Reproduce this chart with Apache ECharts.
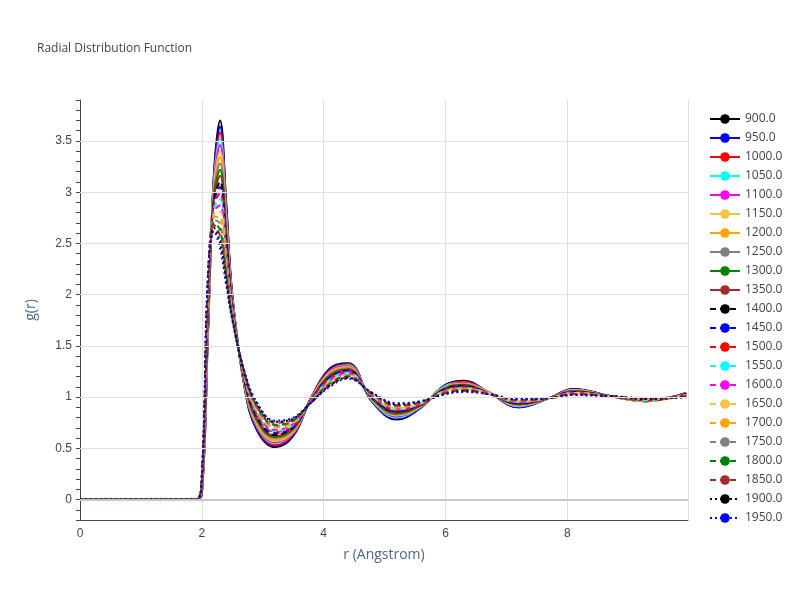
<!DOCTYPE html>
<html><head><meta charset="utf-8">
<script src="https://cdn.jsdelivr.net/npm/echarts@6/dist/echarts.min.js"></script>
<style>html,body{margin:0;padding:0;background:#fff}#c{width:800px;height:600px}</style>
</head><body><div id="c"></div>
<script>
var rGrid=[0,1.9,2.0,2.1,2.2,2.3,2.4,2.5,2.7,2.9,3.2,3.5,3.8,4.1,4.4,4.8,5.2,5.6,6.0,6.3,6.7,7.2,7.7,8.1,8.7,9.3,9.95];
var temps=["900.0","950.0","1000.0","1050.0","1100.0","1150.0","1200.0","1250.0","1300.0","1350.0","1400.0","1450.0","1500.0","1550.0","1600.0","1650.0","1700.0","1750.0","1800.0","1850.0","1900.0","1950.0"];
var yGridLines=[0.5,1,1.5,2,2.5,3,3.5];
var g=[
[0,0,.05,1.60,3.20,3.70,2.90,2.00,1.10,.68,.51,.62,1.00,1.28,1.33,.95,.78,.90,1.12,1.16,1.05,.90,.99,1.08,1.01,.96,1.04],
[0,0,.06,1.63,3.17,3.64,2.86,1.99,1.11,.69,.52,.63,1.00,1.27,1.32,.95,.79,.90,1.12,1.15,1.05,.90,.99,1.08,1.01,.96,1.04],
[0,0,.07,1.66,3.14,3.58,2.82,1.98,1.11,.71,.53,.64,1.00,1.26,1.32,.96,.80,.91,1.11,1.15,1.05,.91,.99,1.07,1.01,.96,1.04],
[0,0,.08,1.69,3.12,3.52,2.79,1.96,1.12,.72,.55,.65,.99,1.25,1.31,.96,.80,.91,1.11,1.14,1.05,.91,.99,1.07,1.01,.96,1.04],
[0,0,.09,1.71,3.09,3.46,2.75,1.95,1.13,.73,.56,.65,.99,1.25,1.30,.97,.81,.91,1.10,1.14,1.05,.92,.99,1.07,1.01,.96,1.04],
[0,0,.10,1.74,3.06,3.40,2.71,1.94,1.14,.74,.57,.66,.99,1.24,1.29,.97,.82,.91,1.10,1.13,1.05,.92,.99,1.07,1.01,.96,1.03],
[0,0,.11,1.77,3.03,3.34,2.67,1.93,1.14,.76,.58,.67,.99,1.23,1.29,.98,.83,.92,1.09,1.13,1.04,.92,.99,1.06,1.01,.96,1.03],
[0,0,.12,1.80,3.01,3.28,2.63,1.92,1.15,.77,.60,.68,.98,1.22,1.28,.98,.83,.92,1.09,1.12,1.04,.93,.99,1.06,1.01,.97,1.03],
[0,0,.13,1.83,2.98,3.22,2.60,1.90,1.16,.78,.61,.69,.98,1.21,1.27,.98,.84,.92,1.09,1.12,1.04,.93,.99,1.06,1.01,.97,1.03],
[0,0,.14,1.86,2.95,3.16,2.56,1.89,1.16,.80,.62,.70,.98,1.20,1.27,.99,.85,.93,1.08,1.11,1.04,.93,.99,1.05,1.01,.97,1.03],
[0,0,.15,1.89,2.92,3.10,2.52,1.88,1.17,.81,.63,.71,.98,1.19,1.26,.99,.86,.93,1.08,1.11,1.04,.94,.99,1.05,1.01,.97,1.03],
[0,0,.15,1.91,2.90,3.05,2.48,1.87,1.18,.82,.65,.71,.97,1.19,1.25,1.00,.86,.93,1.07,1.10,1.04,.94,.99,1.05,1.01,.97,1.02],
[0,0,.16,1.94,2.87,2.99,2.44,1.86,1.19,.83,.66,.72,.97,1.18,1.24,1.00,.87,.93,1.07,1.10,1.04,.95,.99,1.05,1.01,.97,1.02],
[0,0,.17,1.97,2.84,2.93,2.40,1.85,1.19,.85,.67,.73,.97,1.17,1.24,1.01,.88,.94,1.06,1.09,1.04,.95,.99,1.04,1.01,.97,1.02],
[0,0,.18,2.00,2.81,2.87,2.37,1.83,1.20,.86,.68,.74,.97,1.16,1.23,1.01,.89,.94,1.06,1.09,1.04,.95,.99,1.04,1.01,.98,1.02],
[0,0,.19,2.03,2.79,2.81,2.33,1.82,1.21,.87,.70,.75,.96,1.15,1.22,1.01,.89,.94,1.06,1.08,1.04,.96,.99,1.04,1.01,.98,1.02],
[0,0,.20,2.06,2.76,2.75,2.29,1.81,1.21,.89,.71,.76,.96,1.14,1.21,1.02,.90,.95,1.05,1.08,1.03,.96,.99,1.03,1.01,.98,1.01],
[0,0,.21,2.09,2.73,2.69,2.25,1.80,1.22,.90,.72,.77,.96,1.13,1.21,1.02,.91,.95,1.05,1.07,1.03,.96,.99,1.03,1.01,.98,1.01],
[0,0,.22,2.11,2.70,2.63,2.21,1.79,1.23,.91,.73,.77,.96,1.13,1.20,1.03,.92,.95,1.04,1.07,1.03,.97,.99,1.03,1.01,.98,1.01],
[0,0,.23,2.14,2.68,2.57,2.18,1.77,1.24,.92,.75,.78,.95,1.12,1.19,1.03,.92,.95,1.04,1.06,1.03,.97,.99,1.03,1.01,.98,1.01],
[0,0,.24,2.17,2.65,2.51,2.14,1.76,1.24,.94,.76,.79,.95,1.11,1.19,1.04,.93,.96,1.03,1.06,1.03,.98,.99,1.02,1.01,.98,1.00],
[0,0,.25,2.20,2.62,2.45,2.10,1.75,1.25,.95,.77,.80,.95,1.10,1.18,1.04,.94,.96,1.03,1.05,1.03,.98,.99,1.02,1.01,.99,1.00]
];
var palette=["#000000","#0000ff","#ff0000","#00ffff","#ff00ff","#f5c242","#ffa500","#808080","#008000","#a52a2a"];
var series=temps.map(function(t,i){
  var color=i<20?palette[i%10]:(i==20?"#000000":"#0000ff");
  var type=i<10?"solid":(i<20?[6,4]:[2,3]);
  return {name:t,type:"line",smooth:0.4,showSymbol:false,symbol:"none",z:3,
    data:rGrid.map(function(r,j){return [r,g[i][j]];}),
    lineStyle:{width:2,color:color,type:type},itemStyle:{color:color}};
});
series.unshift({name:"_grid",type:"line",data:[],z:1,silent:true,
  markLine:{silent:true,symbol:"none",label:{show:false},animation:false,
    data:yGridLines.map(function(v){return {yAxis:v,lineStyle:{color:"#e0e0e0",width:1,type:"solid"}};})
      .concat([{yAxis:0,lineStyle:{color:"#c8c8c8",width:2,type:"solid"}}])}});
var chart=echarts.init(document.getElementById('c'));
chart.setOption({
  animation:false,
  title:{text:"Radial Distribution Function",left:32,top:38,textStyle:{fontSize:12,fontWeight:"normal",color:"#444",fontFamily:"Open Sans"}},
  legend:{orient:"vertical",left:704,top:108,itemWidth:30,itemHeight:12,itemGap:7,
    textStyle:{fontSize:12,color:"#444",fontFamily:"Open Sans"},data:temps},
  grid:{left:80,right:112,top:100,bottom:80},
  xAxis:{type:"value",min:0,max:9.98,interval:2,name:"r (Angstrom)",nameLocation:"middle",nameGap:28,
    nameTextStyle:{fontSize:14,color:"#506784",fontFamily:"Open Sans"},
    axisLine:{show:true,onZero:false,lineStyle:{color:"#444"}},axisTick:{show:false},
    axisLabel:{color:"#444",fontSize:12,showMaxLabel:false,formatter:function(v){return v%2===0?v:"";}},
    splitLine:{show:true,lineStyle:{color:"#e0e0e0"}}},
  yAxis:{type:"value",min:-0.2,max:3.9,interval:0.1,name:"g(r)",nameLocation:"middle",nameGap:42,
    nameTextStyle:{fontSize:14,color:"#506784",fontFamily:"Open Sans"},
    axisLine:{show:true,onZero:false,lineStyle:{color:"#444"}},axisTick:{show:true,length:4,lineStyle:{color:"#444"}},
    axisLabel:{color:"#444",fontSize:12,
      formatter:function(v){var x=Math.round(v*10);return (x>=0&&x%5===0)?String(x/10):"";}},
    splitLine:{show:false}},
  series:series
});
</script></body></html>
